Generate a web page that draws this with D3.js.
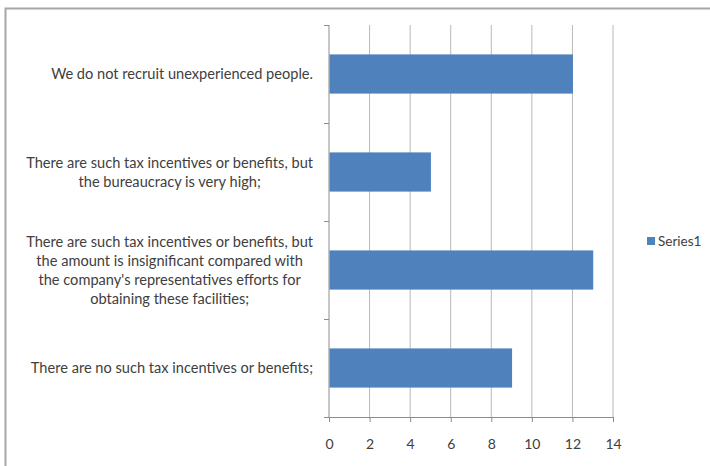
<!DOCTYPE html>
<html>
<head>
<meta charset="utf-8">
<script src="https://cdn.jsdelivr.net/npm/d3@7"></script>
<style>
  body { margin: 0; background: #fff; }
  text { font-family: Lato, "Open Sans", sans-serif; fill: #404040; }
</style>
</head>
<body>
<div id="chart"></div>
<script>
// chart data
var categories = [
  ["We do not recruit unexperienced people."],
  ["There are such tax incentives or benefits, but", "the bureaucracy is very high;"],
  ["There are such tax incentives or benefits, but", "the amount is insignificant compared with", "the company's representatives efforts for", "obtaining these facilities;"],
  ["There are no such tax incentives or benefits;"]
]
var values = [12, 5, 13, 9]
var xTicks = [0, 2, 4, 6, 8, 10, 12, 14]
var seriesName = "Series1"

var margin = {top: 25, right: 97, bottom: 49, left: 329},
    width = 710 - margin.left - margin.right,
    height = 466 - margin.top - margin.bottom
var barColor = "#4f81bd"

var root = d3.select("#chart")
  .append("svg")
    .attr("width", 710)
    .attr("height", 466)

// outer chart border
root.append("rect")
  .attr("x", 5.5).attr("y", 8.5)
  .attr("width", 710).attr("height", 470)
  .attr("fill", "none")
  .attr("stroke", "#a6a6a6")
  .attr("stroke-width", 2)

var svg = root.append("g")
  .attr("transform", "translate(" + margin.left + "," + margin.top + ")")

var x = d3.scaleLinear().domain([0, 14]).range([0, width])
var y = d3.scaleBand()
  .domain(d3.range(categories.length))
  .range([0, height])
  .paddingInner(0.6)
  .paddingOuter(0.3)

// vertical gridlines
svg.selectAll("line.grid")
  .data(xTicks.slice(1))
  .enter()
  .append("line")
    .attr("class", "grid")
    .attr("x1", d => x(d)).attr("x2", d => x(d))
    .attr("y1", 0).attr("y2", height)
    .style("stroke", "#b9b9b9")
    .style("stroke-width", 1)

// X axis
var xAxis = svg.append("g")
  .attr("transform", "translate(0," + height + ")")
  .call(d3.axisBottom(x).tickValues(xTicks).tickSize(5).tickPadding(17))
xAxis.selectAll("line, path").style("stroke", "#8c8c8c")
xAxis.selectAll("text").style("font-size", "14px").style("fill", "#404040")
  .style("font-family", "Lato, sans-serif")

// Y axis line and category ticks
var step = y.step()
svg.append("line")
  .attr("x1", 0).attr("x2", 0).attr("y1", 0).attr("y2", height)
  .style("stroke", "#8c8c8c")
svg.selectAll("line.cattick")
  .data(d3.range(categories.length + 1))
  .enter()
  .append("line")
    .attr("class", "cattick")
    .attr("x1", -5).attr("x2", 0)
    .attr("y1", d => Math.round(d * step) + 0.5)
    .attr("y2", d => Math.round(d * step) + 0.5)
    .style("stroke", "#8c8c8c")

// bars
svg.selectAll("rect.bar")
  .data(values)
  .enter()
  .append("rect")
    .attr("class", "bar")
    .attr("x", x(0) + 0.5)
    .attr("y", (d, i) => y(i))
    .attr("width", d => x(d) - x(0))
    .attr("height", y.bandwidth())
    .attr("fill", barColor)

// category labels: lines centered within a right-aligned block
var lineH = 19
categories.forEach(function(lines, i) {
  var g = svg.append("g")
  var texts = lines.map(function(l, j) {
    return g.append("text")
      .attr("y", y(i) + y.bandwidth() / 2 + (j - (lines.length - 1) / 2) * lineH)
      .attr("dy", "0.35em")
      .attr("text-anchor", "middle")
      .style("font-size", "14.6px")
      .text(l)
  })
  var maxW = d3.max(texts, t => t.node().getComputedTextLength())
  texts.forEach(t => t.attr("x", -16 - maxW / 2))
})

// legend
var legend = svg.append("g")
  .attr("transform", "translate(" + (width + 34) + "," + (height / 2 + 20) + ")")
legend.append("rect")
  .attr("x", 0).attr("y", -4)
  .attr("width", 8).attr("height", 8)
  .attr("fill", barColor)
legend.append("text")
  .attr("x", 11).attr("y", 0)
  .attr("dy", "0.35em")
  .style("font-size", "13.5px")
  .text(seriesName)
</script>
</body>
</html>
